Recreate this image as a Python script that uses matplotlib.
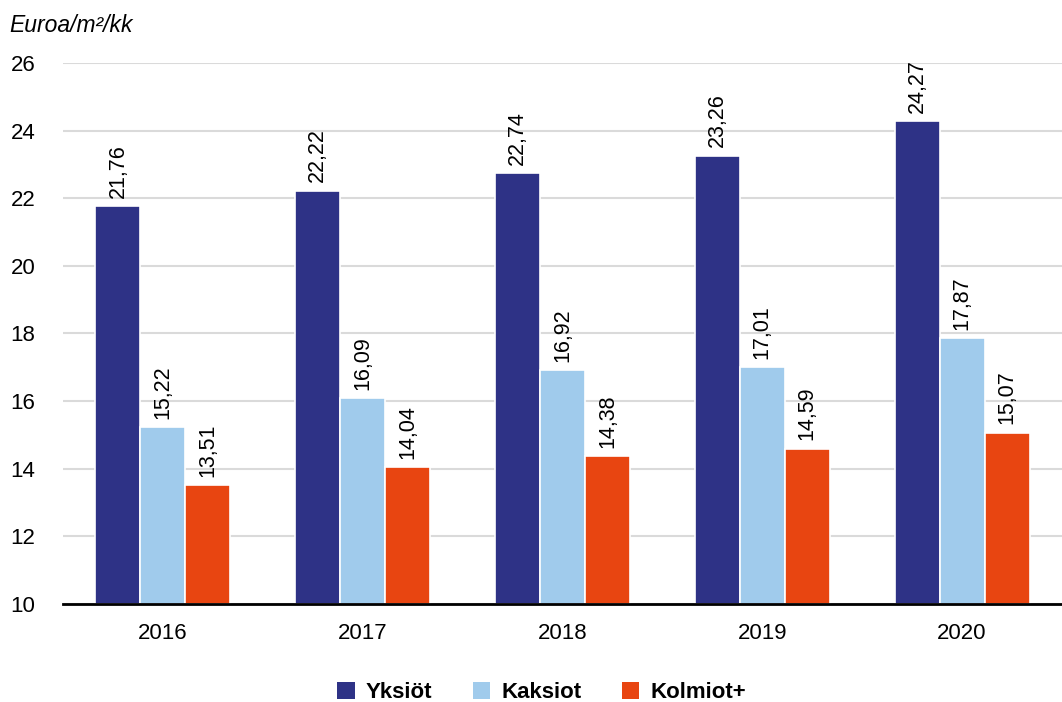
import numpy as np
import matplotlib.pyplot as plt
from matplotlib.patches import Patch

plt.rcParams['font.family'] = ['Liberation Sans', 'DejaVu Sans']

# Datos
vuodet = ['2016', '2017', '2018', '2019', '2020']
yksiot = [21.76, 22.22, 22.74, 23.26, 24.27]
kaksiot = [15.22, 16.09, 16.92, 17.01, 17.87]
kolmiot = [13.51, 14.04, 14.38, 14.59, 15.07]

sarjat = ['Yksiöt', 'Kaksiot', 'Kolmiot+']
varit = ['#2E3286', '#A0CBEC', '#E84511']

fig = plt.figure(figsize=(10.62, 7.02), dpi=100)
ax = fig.add_axes([0.0593, 0.1396, 0.9407, 0.7707])

x = np.arange(len(vuodet))
w = 0.225
for i, (arvot, vari) in enumerate(zip([yksiot, kaksiot, kolmiot], varit)):
    pos = x + (i - 1) * w
    ax.bar(pos, np.array(arvot) - 10, bottom=10, width=w, color=vari,
           edgecolor='white', linewidth=1.2, zorder=3)
    for p, v in zip(pos, arvot):
        ax.annotate(f'{v:.2f}'.replace('.', ','), (p, v), xytext=(0, 6),
                    textcoords='offset points', rotation=90, ha='center',
                    va='bottom', fontsize=15.5, annotation_clip=False)

ax.set_xlim(-0.5, 4.5)
ax.set_ylim(10, 26)
ax.set_yticks(range(10, 27, 2))
ax.set_xticks(x)
ax.set_xticklabels(vuodet)
ax.tick_params(axis='both', length=0, labelsize=16)
ax.tick_params(axis='x', pad=14)
ax.tick_params(axis='y', pad=20)
ax.grid(axis='y', color='#DADADA', linewidth=1.5, zorder=0)
for s in ['top', 'right', 'left']:
    ax.spines[s].set_visible(False)
ax.spines['bottom'].set_linewidth(2)
ax.spines['bottom'].set_zorder(4)

fig.text(0.009, 0.963, 'Euroa/m²/kk', fontsize=16.5, style='italic',
         ha='left', va='center')

kahvat = [Patch(facecolor=c, edgecolor='none') for c in varit]
fig.legend(kahvat, sarjat, loc='center', bbox_to_anchor=(0.51, 0.013),
           ncol=3, frameon=False, handlelength=0.8, handleheight=0.8,
           handletextpad=0.5, columnspacing=1.8,
           prop={'size': 16, 'weight': 'bold'})

fig.savefig('out.png', dpi=100)
